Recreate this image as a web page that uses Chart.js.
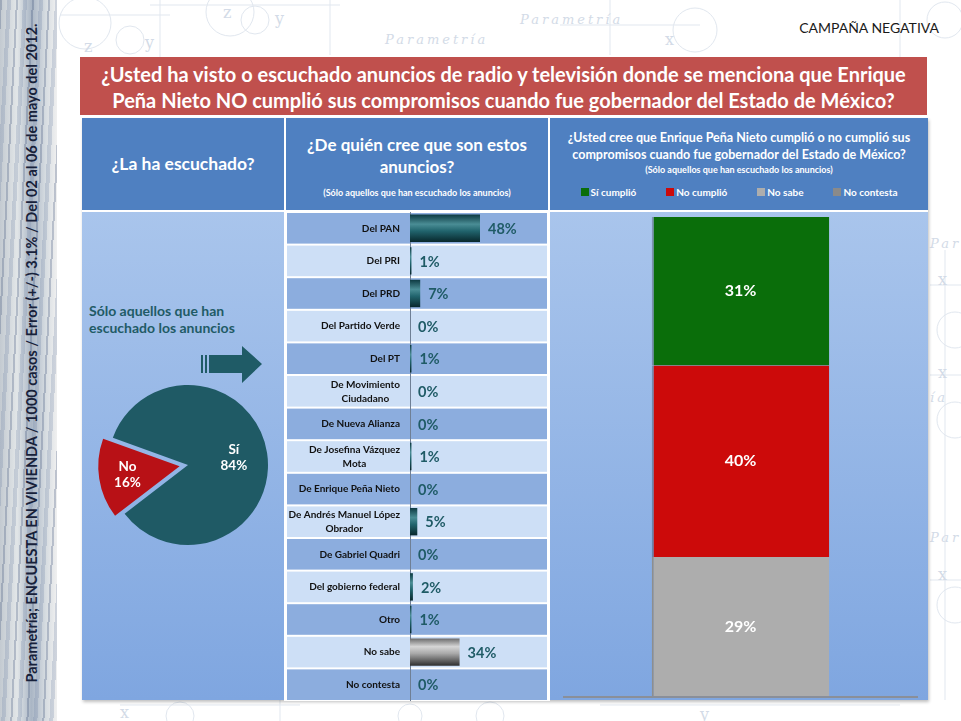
<!DOCTYPE html>
<html lang="es">
<head>
<meta charset="UTF-8">
<title>Campaña negativa</title>
<script src="https://cdn.jsdelivr.net/npm/chart.js"></script>
<style>
  body { margin: 0; width: 961px; height: 721px; position: relative; overflow: hidden; background: #fff; font-family: Lato, "Open Sans", sans-serif; }
  .abs { position: absolute; }
  #strip { left: 0; top: 0; width: 57px; height: 721px;
    background:
      repeating-linear-gradient(93deg, rgba(60,80,120,0.28) 0 2px, transparent 2px 7px, rgba(110,130,165,0.25) 7px 11px, transparent 11px 16px),
      linear-gradient(90deg, #c3cad1, #e2e6e8 30%, #aab6c5 55%, #d6dce1 80%, #f0f0f0); }
  #source { left: 31px; top: 353px; width: 700px; transform: translate(-50%, -50%) rotate(-90deg);
    text-align: center; font-size: 14.5px; font-weight: bold; color: #17213a; white-space: nowrap; }
  #tag { right: 22px; top: 19px; font-size: 14px; color: #1a1a1a; }
  #title { left: 80px; top: 57px; width: 847px; height: 58px; background: #c0504d; color: #fff;
    font-weight: bold; font-size: 20px; line-height: 26px; text-align: center; padding-top: 4px; box-sizing: border-box; }
  #panel { left: 82px; top: 118px; width: 846px; height: 582px; background: #fff; box-shadow: 1px 2px 3px rgba(0,0,0,0.25); }
  .head { background: #4f80c1; color: #fff; font-weight: bold; text-align: center; top: 118px; height: 92px; }
  .body { top: 212px; height: 488px; background: linear-gradient(180deg, #a9c5ec, #7fa6e0); }
  #h1 { left: 82px; width: 202px; font-size: 17.5px; line-height: 92px; }
  #h2 { left: 286px; width: 262px; }
  #h3 { left: 550px; width: 378px; }
  #b1 { left: 82px; width: 202px; }
  #b3 { left: 550px; width: 378px; }
  #note { left: 89px; top: 302px; font-size: 14px; font-weight: bold; color: #1f5b66; line-height: 17px; }
  .legend span.sq { display: inline-block; width: 8px; height: 8px; margin-right: 2px; }
  .legend span.item { display: inline-block; margin: 0 15px; }
  .deco { color: #d3dbe7; font-style: italic; font-family: "DejaVu Serif", serif; letter-spacing: 3px; font-size: 13px; }
</style>
</head>
<body>
<!-- faint background sketches -->
<svg class="abs" style="left:0;top:0" width="961" height="721">
  <g fill="none" stroke="#e1e7ef" stroke-width="1">
    <circle cx="85" cy="23" r="26"/><circle cx="130" cy="40" r="14"/>
    <circle cx="230" cy="12" r="24"/><circle cx="255" cy="20" r="14"/>
    <circle cx="695" cy="30" r="22"/><circle cx="945" cy="20" r="18"/>
    <circle cx="955" cy="330" r="18"/><circle cx="955" cy="420" r="18"/>
    <circle cx="955" cy="605" r="18"/><circle cx="180" cy="716" r="14"/>
    <circle cx="410" cy="716" r="12"/><circle cx="490" cy="716" r="14"/>
    <path d="M60 15 H170 M160 0 V60 M330 0 V55 M150 5 H340 M610 0 V55 M560 25 H700 M900 0 V60 M930 285 H961 M930 375 H961 M930 580 H961 M945 250 V700 M120 705 H300 M600 705 H900 M280 700 V721"/>
  </g>
  <g fill="#d3dbe7" font-family="DejaVu Serif" font-size="16">
    <text x="84" y="52">z</text><text x="145" y="48">y</text><text x="223" y="18">z</text><text x="275" y="24">y</text>
    <text x="665" y="45">x</text><text x="938" y="285">x</text><text x="938" y="378">x</text><text x="938" y="580">x</text>
    <text x="120" y="718">x</text><text x="700" y="720">y</text>
  </g>
</svg>
<div class="abs deco" style="left:385px;top:32px">Parametría</div>
<div class="abs deco" style="left:520px;top:12px">Parametría</div>
<div class="abs deco" style="left:930px;top:236px">Para</div>
<div class="abs deco" style="left:930px;top:530px">Para</div>
<div class="abs deco" style="left:930px;top:390px">ía</div>

<div id="strip" class="abs"></div>
<div id="source" class="abs">Parametría; ENCUESTA EN VIVIENDA / 1000 casos / Error (+/-) 3.1% / Del 02 al 06 de mayo del 2012.</div>
<div id="tag" class="abs">CAMPAÑA NEGATIVA</div>
<div id="title" class="abs">¿Usted ha visto o escuchado anuncios de radio y televisión donde se menciona que Enrique<br>Peña Nieto NO cumplió sus compromisos cuando fue gobernador del Estado de México?</div>

<div id="panel" class="abs"></div>
<div id="h1" class="abs head">¿La ha escuchado?</div>
<div id="h2" class="abs head">
  <div style="font-size:17px;line-height:22px;margin-top:16px">¿De quién cree que son estos<br>anuncios?</div>
  <div style="font-size:9px;margin-top:9px">(Sólo aquellos que han escuchado los anuncios)</div>
</div>
<div id="h3" class="abs head">
  <div style="font-size:12.5px;line-height:17px;margin-top:11px">¿Usted cree que Enrique Peña Nieto cumplió o no cumplió sus<br>compromisos cuando fue gobernador del Estado de México?</div>
  <div style="font-size:9px;margin-top:1px">(Sólo aquellos que han escuchado los anuncios)</div>
  <div id="legend" class="legend" style="font-size:10px;margin-top:11px"></div>
</div>
<div id="b1" class="abs body"></div>
<div id="b3" class="abs body"></div>

<div id="note" class="abs">Sólo aquellos que han<br>escuchado los anuncios</div>
<svg class="abs" style="left:200px;top:345px" width="64" height="40">
  <g fill="#1f5b66">
    <rect x="1" y="10" width="2" height="18"/><rect x="5" y="10" width="2" height="18"/>
    <polygon points="9,10 42,10 42,1 62,19 42,38 42,28 9,28"/>
  </g>
</svg>

<canvas id="pie" class="abs" style="left:88px;top:365px" width="200" height="200"></canvas>
<canvas id="who" class="abs" style="left:284px;top:210px" width="266" height="491"></canvas>
<canvas id="kept" class="abs" style="left:548px;top:210px" width="380" height="490"></canvas>

<script>
// ¿La ha escuchado?
const heardLabels = ['Sí', 'No'];
const heardValues = [84, 16];
const heardColors = ['#1f5a65', '#b81116'];

// ¿De quién cree que son estos anuncios?
const sourceLabels = ['Del PAN', 'Del PRI', 'Del PRD', 'Del Partido Verde', 'Del PT',
  ['De Movimiento', 'Ciudadano'], 'De Nueva Alianza', ['De Josefina Vázquez', 'Mota'],
  'De Enrique Peña Nieto', ['De Andrés Manuel López', 'Obrador'], 'De Gabriel Quadri',
  'Del gobierno federal', 'Otro', 'No sabe', 'No contesta'];
const sourceValues = [48, 1, 7, 0, 1, 0, 0, 1, 0, 5, 0, 2, 1, 34, 0];

// ¿Cumplió o no cumplió?
const keptSeries = ['Sí cumplió', 'No cumplió', 'No sabe', 'No contesta'];
const keptValues = [31, 40, 29, 0];
const keptColors = ['#0a6e0a', '#cc0a0a', '#adadad', '#8a8a8a'];

const FONT = 'Lato, "Open Sans", sans-serif';

// legend in the header, built from the series
document.getElementById('legend').innerHTML = keptSeries.map((s, i) =>
  `<span class="item"><span class="sq" style="background:${keptColors[i]}"></span>${s}</span>`).join('');

// ---------- pie ----------
const pieLabels = {
  id: 'pieLabels',
  afterDatasetsDraw(chart) {
    const ctx = chart.ctx;
    chart.getDatasetMeta(0).data.forEach((arc, i) => {
      const mid = (arc.startAngle + arc.endAngle) / 2;
      const off = (arc.options.offset || 0) / 4;
      const r = arc.outerRadius * (i === 0 ? 0.58 : 0.66) + off;
      const x = arc.x + Math.cos(mid) * r, y = arc.y + Math.sin(mid) * r;
      ctx.save();
      ctx.fillStyle = '#fff';
      ctx.font = 'bold 13.5px ' + FONT;
      ctx.textAlign = 'center';
      ctx.textBaseline = 'middle';
      ctx.fillText(heardLabels[i], x, y - 8);
      ctx.fillText(heardValues[i] + '%', x, y + 8);
      ctx.restore();
    });
  }
};

new Chart(document.getElementById('pie'), {
  type: 'pie',
  data: { labels: heardLabels, datasets: [{ data: heardValues, backgroundColor: heardColors, borderWidth: 0, offset: [0, 34] }] },
  options: {
    responsive: false, animation: false, radius: 80, rotation: 290,
    plugins: { legend: { display: false }, tooltip: { enabled: false } }
  },
  plugins: [pieLabels]
});

// ---------- horizontal bars ----------
function barFill(c) {
  const chart = c.chart, y = chart.scales.y;
  if (!chart.chartArea || !y) return '#1f5a65';
  const step = y.getPixelForValue(1) - y.getPixelForValue(0);
  const h = step * 0.84, cy = y.getPixelForValue(c.dataIndex);
  const g = chart.ctx.createLinearGradient(0, cy - h / 2, 0, cy + h / 2);
  if (sourceLabels[c.dataIndex] === 'No sabe') {
    g.addColorStop(0, '#6b6b6b'); g.addColorStop(0.3, '#d6d6d6'); g.addColorStop(0.55, '#a9a9a9'); g.addColorStop(1, '#2e2e2e');
  } else {
    g.addColorStop(0, '#0d3a42'); g.addColorStop(0.35, '#4a8d95'); g.addColorStop(0.6, '#21646d'); g.addColorStop(1, '#08272c');
  }
  return g;
}

const rowBands = {
  id: 'rowBands',
  beforeDraw(chart) {
    const ctx = chart.ctx, y = chart.scales.y;
    const step = y.getPixelForValue(1) - y.getPixelForValue(0);
    ctx.save();
    ctx.fillStyle = '#ffffff';
    ctx.fillRect(0, 0, chart.width, chart.height);
    sourceLabels.forEach((l, i) => {
      const top = y.getPixelForValue(i) - step / 2;
      ctx.fillStyle = i % 2 === 0 ? '#8cadde' : '#cddff6';
      ctx.fillRect(3, top + 1, chart.width - 6, step - 2);
    });
    ctx.restore();
  },
  afterDatasetsDraw(chart) {
    const ctx = chart.ctx, y = chart.scales.y, x = chart.scales.x;
    ctx.save();
    ctx.textBaseline = 'middle';
    sourceLabels.forEach((l, i) => {
      const cy = y.getPixelForValue(i);
      // category label: block right aligned to the axis, lines centred in the block
      const lines = Array.isArray(l) ? l : [l];
      ctx.font = 'bold 10px ' + FONT;
      ctx.fillStyle = '#111';
      const w = Math.max(...lines.map(t => ctx.measureText(t).width));
      const right = chart.chartArea.left - 10;
      ctx.textAlign = 'center';
      lines.forEach((t, k) => ctx.fillText(t, right - w / 2, cy + (k - (lines.length - 1) / 2) * 14));
      // value label
      ctx.font = 'bold 14.5px ' + FONT;
      ctx.fillStyle = '#1f5b66';
      ctx.textAlign = 'left';
      ctx.fillText(sourceValues[i] + '%', x.getPixelForValue(sourceValues[i]) + 8, cy + 1);
    });
    ctx.restore();
  }
};

new Chart(document.getElementById('who'), {
  type: 'bar',
  data: { labels: sourceLabels, datasets: [{ data: sourceValues, backgroundColor: barFill, barPercentage: 0.84, categoryPercentage: 1 }] },
  options: {
    indexAxis: 'y', responsive: false, animation: false,
    layout: { padding: { top: 2, bottom: 0, left: 0, right: 0 } },
    plugins: { legend: { display: false }, tooltip: { enabled: false } },
    scales: {
      x: { display: false, min: 0, max: 96 },
      y: {
        afterFit(s) { s.width = 126; },
        grid: { display: false },
        border: { color: '#6f7f95', width: 1 },
        ticks: { display: false }
      }
    }
  },
  plugins: [rowBands]
});

// ---------- stacked column ----------
const stackLabels = {
  id: 'stackLabels',
  afterDatasetsDraw(chart) {
    const ctx = chart.ctx, a = chart.chartArea;
    ctx.save();
    // base line under the column
    ctx.strokeStyle = '#8a8f99';
    ctx.lineWidth = 2;
    ctx.beginPath();
    ctx.moveTo(a.left, a.bottom + 1);
    ctx.lineTo(a.right, a.bottom + 1);
    ctx.stroke();
    ctx.fillStyle = '#fff';
    ctx.font = 'bold 16px ' + FONT;
    ctx.textAlign = 'center';
    ctx.textBaseline = 'middle';
    chart.data.datasets.forEach((ds, i) => {
      const v = ds.data[0];
      if (!v) return;
      const bar = chart.getDatasetMeta(i).data[0];
      ctx.fillText(v + '%', bar.x, (bar.y + bar.base) / 2);
    });
    ctx.restore();
  }
};

// first dataset sits at the bottom of the stack, so reverse
const keptDatasets = keptSeries.map((s, i) => ({
  label: s, data: [keptValues[i]], backgroundColor: keptColors[i],
  borderColor: i === 2 ? '#8e8e8e' : 'rgba(0,0,0,0.25)', borderWidth: { left: 2, right: 0, top: 0, bottom: 0 },
  barPercentage: 0.5, categoryPercentage: 1
})).reverse();

new Chart(document.getElementById('kept'), {
  type: 'bar',
  data: { labels: [''], datasets: keptDatasets },
  options: {
    responsive: false, animation: false,
    layout: { padding: { left: 15, right: 10, top: 7, bottom: 4 } },
    plugins: { legend: { display: false }, tooltip: { enabled: false } },
    scales: {
      x: { stacked: true, display: false },
      y: { stacked: true, display: false, min: 0, max: 100 }
    }
  },
  plugins: [stackLabels]
});
</script>
</body>
</html>
